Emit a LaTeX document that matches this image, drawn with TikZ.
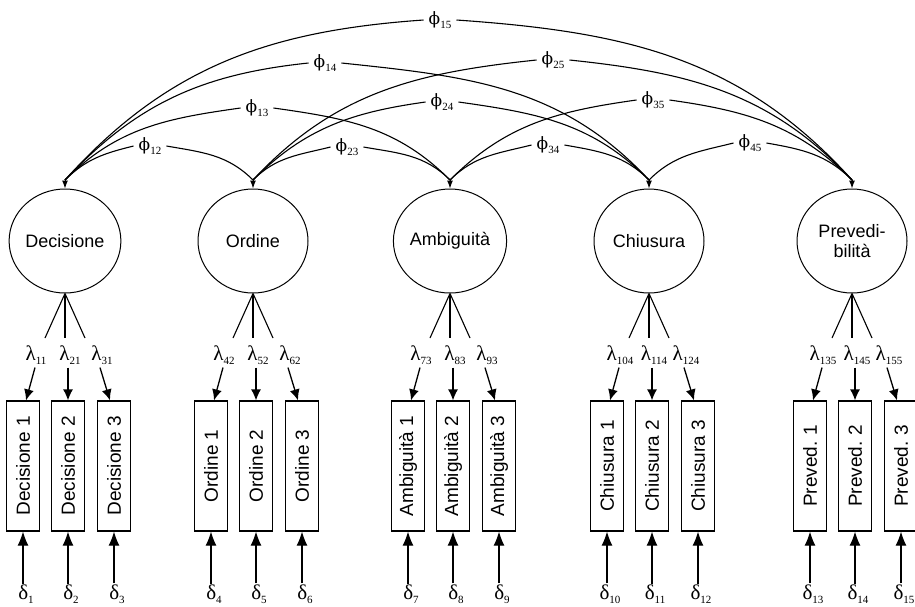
\documentclass[tikz,border=0pt]{standalone}
\usepackage{fontspec}
\setmainfont{Liberation Sans}
\newfontfamily\grk{Liberation Serif}
\newfontfamily\phif{DejaVu Serif}
\newcommand\gsub[2]{{\grk\fontsize{21}{23}\selectfont #1\raisebox{-0.4ex}{\fontsize{11}{12}\selectfont #2}}}
\newcommand\phisub[1]{{\phif\fontsize{17}{20}\selectfont ϕ\raisebox{-0.45ex}{\grk\fontsize{11}{12}\selectfont #1}}}
\usetikzlibrary{shapes.geometric,arrows.meta}
\begin{document}
\begin{tikzpicture}[x=1pt,y=-1pt,
  lat/.style={draw,ellipse,line width=1pt,minimum width=110pt,minimum height=104pt,inner sep=0pt,align=center,font=\fontsize{18}{20}\selectfont},
  obs/.style={draw,rectangle,line width=1.2pt,minimum width=33pt,minimum height=130pt,inner sep=0pt,font=\fontsize{19}{20}\selectfont},
  greek/.style={inner sep=1pt},
  phil/.style={inner sep=5pt},
  cv/.style={line width=1.1pt},
  ld/.style={line width=1.1pt},
  tiparrow/.style={line width=1pt,-{Latex[length=8pt,width=6pt]}},
  lamarrow/.style={line width=1.3pt,-{Latex[length=11pt,width=10pt]}},
  delarrow/.style={line width=1.2pt,-{Latex[length=14pt,width=11pt]}}]
\useasboundingbox (0,0) rectangle (915,606);

\foreach \i/\x/\lab/\short in {1/65/Decisione/Decisione,2/253/Ordine/Ordine,3/450/Ambiguità/Ambiguità,4/649/Chiusura/Chiusura,5/852/{Prevedi-\\bilità}/Preved.}{
  \node[lat] (f\i) at (\x,241) {\lab};
  \coordinate (t\i) at (\x,180);
  \draw[tiparrow] (t\i) -- (f\i.north);
  \foreach \k/\dx/\lx/\ts/\tp in {1/-42/-29/-1/3,2/3/5/-2/0,3/49/37/-2/-4}{
    \pgfmathtruncatemacro\n{3*(\i-1)+\k}
    \node[obs] (b\n) at ({\x+(\dx)},466) {\rotatebox{90}{\short\ \k}};
    \coordinate (e\n) at ({\x+(\k-2)*20},338);
    \draw[ld] (f\i.south) -- (e\n);
    \node[greek] (l\n) at ({\x+(\lx)},355) {\gsub{λ}{\n\i}};
    \draw[lamarrow] ([xshift=\ts pt,yshift=-2pt]l\n.south) -- ([xshift=\tp pt]b\n.north);
    \node[greek] (d\n) at ({\x+(\dx)+3},594) {\gsub{δ}{\n}};
    \draw[delarrow] (d\n.north -| b\n.south) -- (b\n.south);
  }
}

% phi labels
\node[phil] (p12) at (150,146) {\phisub{12}};
\node[phil] (p23) at (347,147) {\phisub{23}};
\node[phil] (p34) at (548,145) {\phisub{34}};
\node[phil] (p45) at (750,143) {\phisub{45}};
\node[phil] (p13) at (257,108) {\phisub{13}};
\node[phil] (p24) at (442,102) {\phisub{24}};
\node[phil] (p35) at (653,100) {\phisub{35}};
\node[phil] (p14) at (325,63) {\phisub{14}};
\node[phil] (p25) at (553,60) {\phisub{25}};
\node[phil] (p15) at (440,20) {\phisub{15}};

% level 1
\foreach \a/\b in {1/2,2/3,3/4,4/5}{
  \draw[cv] (t\a) to[out=45,in=194] (p\a\b.west);
  \draw[cv] (p\a\b.east) to[out=-10,in=135] (t\b);
}
% level 2
\foreach \a/\b in {1/3,2/4,3/5}{
  \draw[cv] (t\a) to[out=45,in=188] (p\a\b.west);
  \draw[cv] (p\a\b.east) to[out=-8,in=135] (t\b);
}
% level 3
\foreach \a/\b in {1/4,2/5}{
  \draw[cv] (t\a) to[out=47,in=186] (p\a\b.west);
  \draw[cv] (p\a\b.east) to[out=-6,in=133] (t\b);
}
% level 4
\draw[cv] (t1) to[out=48,in=184] (p15.west);
\draw[cv] (p15.east) to[out=-4,in=132] (t5);
\end{tikzpicture}
\end{document}
